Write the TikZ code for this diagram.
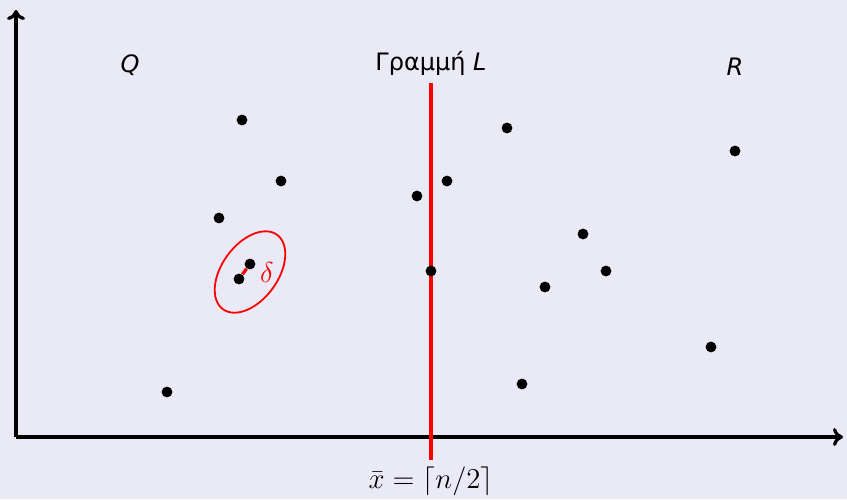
\documentclass[tikz,border=0pt]{standalone}
\usepackage{fontspec}
\setmainfont{DejaVu Sans}
\usepackage{xcolor}
\usetikzlibrary{arrows.meta, positioning}

\definecolor{bgcol}{RGB}{234,234,246}

\begin{document}
\begin{tikzpicture}[
  x=0.5pt, y=-0.5pt,
  every node/.style={font=\large},
  pt/.style={circle, fill=black, inner sep=0pt, minimum size=5.4pt},
  axis/.style={-{To[length=5pt, width=9pt]}, line width=1.6pt},
  cut/.style={red, line width=1.6pt},
  lbl/.style={inner sep=1pt}
]

% --- Background ---
\fill[bgcol] (0,0) rectangle (847,499);
\useasboundingbox (0,0) rectangle (847,499);

% --- Axes ---
\coordinate (o) at (16,437);
\coordinate (ytop) at (16,10);
\coordinate (xend) at (843,437);
\draw[axis] (o) -- (ytop);
\draw[axis] (o) -- (xend);

% --- Dividing line ---
\coordinate (ltop) at (431,83);
\coordinate (lbot) at (431,460);
\draw[cut] (ltop) -- (lbot);

% --- Labels ---
\node[lbl] (q) at (130,65) {\textit{Q}};
\node[lbl] (lname) at (431,63) {Γραμμή \textit{L}};
\node[lbl] (r) at (735,67) {\textit{R}};
\node[lbl, font=\Large] (xm) at (431,481) {$\bar{x} = \lceil n/2 \rceil$};

% --- Points in Q ---
\node[pt] (p1) at (242,120) {};
\node[pt] (p2) at (281,181) {};
\node[pt] (p3) at (219,218) {};
\node[pt] (p4) at (250,264) {};
\node[pt] (p5) at (239,279) {};
\node[pt] (p6) at (167,392) {};

% --- Points near L ---
\node[pt] (p7) at (417,196) {};
\node[pt] (p8) at (447,181) {};
\node[pt] (p9) at (431,271) {};

% --- Points in R ---
\node[pt] (p10) at (507,128) {};
\node[pt] (p11) at (583,234) {};
\node[pt] (p12) at (606,271) {};
\node[pt] (p13) at (545,287) {};
\node[pt] (p14) at (522,384) {};
\node[pt] (p15) at (735,151) {};
\node[pt] (p16) at (711,347) {};

% --- Closest pair ---
\draw[red, line width=1.6pt] (p5) -- (p4);
\node[red, lbl, font=\Large] (d) at (267,272) {$\delta$};
\coordinate (ec) at (250,272);
\draw[red, line width=0.9pt, rotate around={54:(ec)}] (ec) ellipse [x radius=23pt, y radius=14pt];

\end{tikzpicture}
\end{document}
